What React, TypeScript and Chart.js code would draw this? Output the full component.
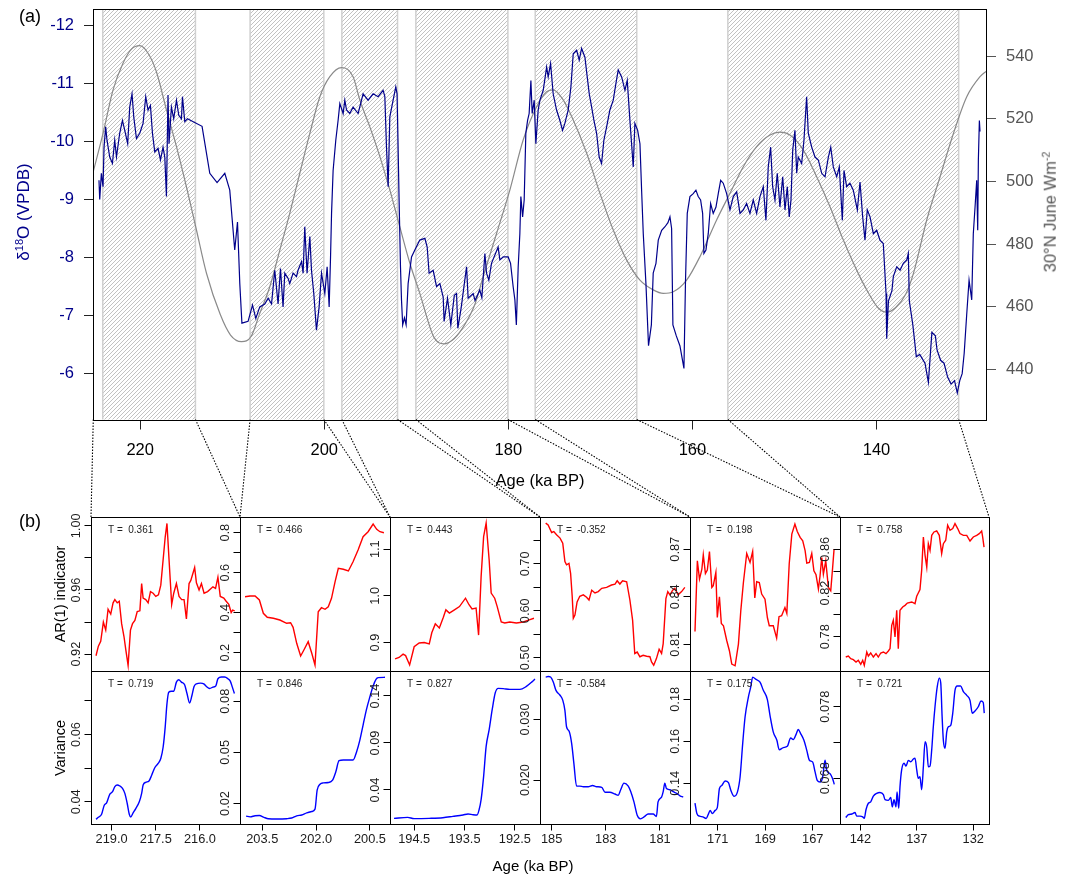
import React, { useEffect, useRef } from 'react';
import { Chart, registerables } from 'chart.js';

Chart.register(...registerables);

const FONT = '"Liberation Sans", Arial, Helvetica, sans-serif';
Chart.defaults.font.family = FONT;
Chart.defaults.color = '#000';

// ---------------- (a) top panel data ----------------
const d18oAge = [
  224.48, 224.40, 224.22, 224.04, 223.93, 223.75, 223.61, 223.31, 223.02, 222.77,
  222.58, 222.23, 221.93, 221.68, 221.36, 221.14, 220.89, 220.70, 220.41, 220.05,
  219.69, 219.40, 219.15, 218.89, 218.67, 218.42, 218.06, 217.80, 217.52, 217.33,
  217.15, 216.98, 216.87, 216.61, 216.36, 216.06, 215.81, 215.52, 215.41, 215.16,
  214.87, 213.28, 212.44, 211.65, 210.81, 210.27, 209.73, 209.43, 209.18, 208.95,
  208.28, 207.80, 207.44, 207.01, 206.47, 206.10, 205.73, 205.38, 205.02, 204.76,
  204.48, 204.29, 203.93, 203.75, 203.39, 203.02, 202.85, 202.47, 202.30, 202.12,
  201.87, 201.57, 201.39, 201.14, 200.85, 200.56, 200.30, 199.94, 199.69, 199.47,
  199.32, 199.21, 199.04, 198.75, 198.50, 198.31, 197.95, 197.77, 197.58, 197.23,
  196.87, 196.32, 195.78, 195.24, 194.69, 194.15, 193.61, 193.42, 193.24, 193.06,
  192.88, 192.52, 192.23, 192.09, 191.87, 191.72, 191.61, 191.48, 191.29, 191.11,
  190.89, 190.52, 190.16, 189.62, 189.07, 188.82, 188.61, 188.17, 187.80, 187.44,
  187.08, 186.98, 186.61, 186.25, 185.87, 185.63, 185.49, 185.12, 184.54, 184.37,
  183.82, 183.62, 183.10, 182.88, 182.55, 182.37, 182.12, 181.83, 181.11, 180.92,
  180.56, 180.02, 179.76, 179.48, 179.29, 179.13, 178.93, 178.75, 178.64, 178.45,
  178.28, 178.10, 177.91, 177.74, 177.55, 177.41, 177.19, 177.01, 176.76, 176.57,
  176.21, 175.84, 175.67, 175.41, 175.13, 174.76, 174.40, 174.11, 173.86, 173.50,
  173.20, 172.95, 172.58, 172.30, 172.04, 171.68, 171.43, 171.21, 170.95, 170.70,
  170.41, 170.13, 169.87, 169.62, 169.32, 168.97, 168.60, 168.31, 168.06, 167.69,
  167.33, 167.08, 166.79, 166.61, 166.43, 166.25, 165.95, 165.70, 165.52, 165.34,
  165.05, 164.77, 164.46, 164.26, 163.96, 163.71, 163.34, 162.98, 162.66, 162.44,
  162.26, 162.12, 161.75, 161.36, 160.92, 160.75, 160.56, 160.27, 159.91, 159.62,
  159.37, 159.11, 158.89, 158.75, 158.53, 158.28, 158.02, 157.74, 157.44, 157.19,
  156.93, 156.65, 156.28, 155.92, 155.56, 155.19, 154.83, 154.47, 154.11, 153.75,
  153.39, 153.02, 152.66, 152.30, 152.01, 151.76, 151.50, 151.28, 151.03, 150.78,
  150.49, 150.19, 149.94, 149.69, 149.48, 149.29, 149.10, 148.86, 148.67, 148.50,
  148.13, 147.88, 147.59, 147.41, 147.04, 146.68, 146.32, 145.95, 145.59, 145.23,
  144.97, 144.69, 144.32, 144.04, 143.71, 143.53, 143.24, 142.88, 142.52, 142.08,
  141.79, 141.50, 141.25, 141.00, 140.70, 140.34, 139.98, 139.62, 139.26, 138.96,
  138.89, 138.70, 138.32, 138.17, 137.80, 137.44, 137.08, 136.71, 136.54, 136.43,
  136.05, 135.67, 135.30, 134.73, 134.36, 133.98, 133.60, 133.42, 133.03, 132.66,
  132.27, 131.90, 131.52, 131.22, 130.95, 130.69, 130.47, 130.20, 129.94, 129.65,
  129.48, 129.29, 129.11, 129.00, 128.93, 128.82, 128.75,
];
const d18oVal = [
  -9.33, -9.00, -9.45, -9.22, -9.90, -10.25, -10.02, -9.73, -9.62, -10.02,
  -9.73, -10.14, -10.36, -10.19, -9.96, -10.59, -10.82, -10.42, -10.05, -10.14,
  -10.31, -10.77, -10.54, -10.62, -10.14, -9.82, -9.88, -9.68, -9.90, -9.73,
  -9.05, -10.80, -9.96, -10.59, -10.39, -10.71, -10.45, -10.39, -10.77, -10.34,
  -10.39, -10.26, -9.45, -9.29, -9.45, -9.16, -8.13, -8.61, -7.55, -6.87,
  -6.90, -7.18, -6.95, -7.15, -7.20, -7.30, -7.20, -7.78, -7.20, -7.81,
  -7.15, -7.73, -7.64, -7.55, -7.73, -7.67, -7.78, -7.93, -7.73, -8.53,
  -7.73, -8.36, -7.78, -7.38, -6.75, -7.15, -7.73, -7.38, -7.84, -7.15,
  -8.01, -8.76, -9.50, -10.02, -10.36, -10.65, -10.48, -10.71, -10.54, -10.48,
  -10.59, -10.48, -10.82, -10.71, -10.82, -10.77, -10.88, -10.77, -9.90, -9.22,
  -10.42, -10.71, -10.94, -10.82, -8.99, -7.84, -7.27, -6.84, -6.96, -6.84,
  -7.55, -8.01, -8.13, -8.30, -8.33, -8.18, -7.73, -7.78, -7.50, -7.55,
  -7.32, -6.90, -7.30, -6.84, -7.35, -7.38, -6.78, -7.14, -7.84, -7.30,
  -7.38, -7.26, -7.44, -7.31, -8.07, -7.73, -7.61, -7.90, -8.18, -7.96,
  -8.01, -8.01, -7.90, -7.50, -7.27, -6.84, -7.84, -8.41, -9.05, -8.70,
  -8.99, -10.14, -10.36, -10.48, -11.05, -10.48, -10.71, -9.96, -10.54, -10.71,
  -10.88, -11.28, -11.11, -11.34, -10.82, -10.54, -10.36, -10.19, -10.31, -10.54,
  -10.94, -11.51, -11.57, -11.40, -11.60, -11.45, -11.11, -10.82, -10.59, -10.36,
  -10.14, -9.73, -9.62, -10.02, -10.25, -10.54, -10.71, -11.00, -11.23, -11.11,
  -10.88, -11.05, -10.36, -9.96, -9.56, -10.31, -10.19, -9.96, -9.16, -8.41,
  -7.55, -6.48, -6.84, -7.73, -7.90, -8.30, -8.47, -8.53, -8.60, -8.70,
  -8.50, -6.84, -6.65, -6.48, -6.09, -7.61, -8.76, -9.05, -9.10, -9.16,
  -9.05, -8.99, -8.76, -8.07, -8.13, -8.41, -8.93, -8.76, -8.87, -9.10,
  -9.33, -9.28, -9.10, -8.82, -9.05, -9.13, -8.76, -8.82, -8.93, -8.76,
  -8.99, -8.76, -9.05, -9.22, -8.64, -9.56, -9.90, -9.22, -8.99, -9.45,
  -8.87, -9.39, -8.82, -9.22, -8.70, -8.99, -9.85, -10.19, -9.45, -9.73,
  -9.62, -10.02, -10.77, -10.14, -9.90, -9.73, -9.68, -9.45, -9.39, -9.73,
  -9.90, -9.56, -9.39, -9.56, -8.64, -9.50, -9.22, -9.28, -9.16, -8.82,
  -9.30, -8.70, -8.30, -8.82, -8.70, -8.41, -8.47, -8.30, -8.24, -7.38,
  -6.60, -7.25, -7.43, -7.67, -7.84, -7.78, -7.90, -7.96, -8.07, -7.25,
  -6.84, -6.29, -6.33, -6.18, -5.85, -6.71, -6.65, -6.41, -6.23, -6.18,
  -5.94, -5.82, -5.88, -5.67, -5.88, -6.00, -6.35, -7.01, -7.61, -7.27,
  -8.41, -8.87, -9.33, -8.47, -9.68, -10.36, -10.17,
];
const insolAge = [
  225.20, 224.04, 222.95, 221.87, 220.95, 220.05, 219.15, 218.24, 217.15, 216.06,
  214.98, 213.89, 212.80, 211.31, 210.19, 208.99, 207.94, 207.01, 205.92, 204.83,
  203.75, 202.66, 201.57, 200.48, 199.40, 198.13, 196.87, 196.14, 195.05, 193.96,
  192.88, 191.79, 190.70, 189.62, 188.11, 186.99, 185.87, 184.74, 183.62, 182.74,
  181.28, 179.83, 178.39, 176.93, 175.84, 175.13, 174.04, 172.95, 171.49, 170.05,
  168.60, 167.14, 165.70, 164.26, 163.17, 162.08, 160.63, 159.18, 157.37, 155.92,
  154.47, 153.02, 151.57, 150.49, 149.40, 147.95, 146.50, 145.05, 143.60, 142.15,
  141.06, 139.83, 138.89, 137.94, 136.81, 136.00, 134.54, 133.09, 131.64, 130.19,
  128.75, 128.05,
];
const insolVal = [
  502.0, 515.3, 529.2, 537.7, 542.2, 543.3, 540.9, 535.0, 522.8, 511.1,
  498.3, 484.5, 470.7, 457.6, 451.0, 448.9, 450.6, 457.9, 466.4, 478.1,
  489.8, 502.6, 515.3, 527.0, 533.4, 536.3, 533.4, 526.0, 517.4, 507.9,
  497.3, 485.5, 473.9, 464.3, 450.4, 448.2, 449.9, 454.3, 460.9, 469.6,
  483.4, 497.3, 513.2, 523.8, 528.6, 529.2, 526.0, 519.6, 509.0, 496.2,
  484.5, 474.9, 468.5, 465.4, 464.3, 464.8, 468.5, 476.0, 487.7, 496.2,
  504.7, 511.1, 514.8, 515.7, 514.8, 510.0, 501.5, 491.9, 481.3, 471.7,
  465.4, 459.7, 458.3, 459.7, 464.1, 470.5, 487.7, 501.5, 515.3, 527.0,
  533.4, 535.2,
];
const shadeStart = [224.07, 208.06, 198.09, 190.05, 177.08, 156.15];
const shadeEnd = [214.0, 200.05, 192.04, 180.05, 166.05, 131.07];
const linkAges = [225.1, 214.0, 208.06, 200.05, 198.09, 192.04, 190.05, 180.05, 177.08, 166.05, 156.15, 131.07];
const topAgeTicks = [220, 200, 180, 160, 140];
const d18oTicks = [-12, -11, -10, -9, -8, -7, -6];
const insolTicks = [440, 460, 480, 500, 520, 540];

// ---------------- (b) AR(1) panels ----------------
const ar1Age = [219.53, 219.45, 219.37, 219.28, 219.20, 219.12, 219.03, 218.95, 218.89, 218.81, 218.74, 218.66, 218.58, 218.52, 218.44, 218.36, 218.29, 218.21, 218.13, 218.04, 217.98, 217.93, 217.84, 217.76, 217.68, 217.59, 217.50, 217.41, 217.33, 217.25, 217.18, 217.12, 217.05, 216.96, 216.89, 216.80, 216.71, 216.62, 216.54, 216.46, 216.37, 216.31, 216.18, 216.12, 216.03, 215.95, 215.86, 215.74, 215.56, 215.47, 215.39, 215.31, 215.19, 215.11, 215.02, 214.94, 214.89, 214.82];
const ar1 = [0.919, 0.925, 0.928, 0.940, 0.935, 0.948, 0.945, 0.952, 0.954, 0.952, 0.953, 0.939, 0.931, 0.923, 0.913, 0.935, 0.939, 0.941, 0.9465, 0.947, 0.964, 0.955, 0.954, 0.952, 0.959, 0.958, 0.956, 0.957, 0.963, 0.979, 0.993, 1.0015, 0.979, 0.951, 0.958, 0.964, 0.956, 0.954, 0.954, 0.942, 0.964, 0.966, 0.974, 0.9645, 0.960, 0.964, 0.958, 0.959, 0.962, 0.961, 0.968, 0.956, 0.955, 0.953, 0.951, 0.946, 0.9475, 0.947];
const ar2Age = [203.98, 203.84, 203.70, 203.58, 203.47, 203.36, 203.19, 203.01, 202.82, 202.71, 202.64, 202.54, 202.43, 202.34, 202.22, 202.12, 202.03, 201.94, 201.85, 201.75, 201.66, 201.57, 201.47, 201.38, 201.24, 201.10, 200.97, 200.83, 200.69, 200.55, 200.41, 200.31, 200.22, 200.11];
const ar2 = [0.48, 0.4835, 0.4835, 0.4635, 0.397, 0.377, 0.372, 0.3635, 0.347, 0.35, 0.327, 0.247, 0.1835, 0.2135, 0.255, 0.197, 0.1385, 0.405, 0.425, 0.417, 0.43, 0.472, 0.555, 0.622, 0.617, 0.6085, 0.655, 0.7135, 0.78, 0.805, 0.8435, 0.817, 0.805, 0.80];
const ar3Age = [194.88, 194.80, 194.72, 194.67, 194.59, 194.50, 194.40, 194.30, 194.20, 194.15, 194.08, 194.00, 193.92, 193.87, 193.80, 193.70, 193.60, 193.48, 193.41, 193.35, 193.27, 193.22, 193.17, 193.12, 193.07, 193.01, 192.97, 192.90, 192.85, 192.77, 192.70, 192.60, 192.47, 192.33, 192.20, 192.12];
const ar3 = [0.865, 0.868, 0.875, 0.872, 0.852, 0.891, 0.899, 0.900, 0.897, 0.921, 0.940, 0.931, 0.954, 0.970, 0.963, 0.970, 0.977, 0.995, 0.981, 0.972, 0.974, 0.916, 1.041, 1.127, 1.156, 1.077, 1.006, 0.995, 0.977, 0.944, 0.942, 0.944, 0.942, 0.944, 0.949, 0.952];
const ar4Age = [185.22, 185.13, 185.00, 184.92, 184.82, 184.69, 184.59, 184.51, 184.45, 184.36, 184.30, 184.24, 184.20, 184.14, 184.06, 183.96, 183.83, 183.71, 183.62, 183.52, 183.40, 183.28, 183.15, 182.97, 182.79, 182.66, 182.58, 182.48, 182.38, 182.23, 182.11, 182.01, 181.93, 181.84, 181.74, 181.62, 181.49, 181.37, 181.31, 181.23, 181.13, 181.03, 180.94, 180.88, 180.78, 180.71, 180.63, 180.53, 180.45, 180.33, 180.20, 180.08];
const ar4 = [0.787, 0.783, 0.767, 0.769, 0.762, 0.755, 0.744, 0.705, 0.698, 0.701, 0.68, 0.63, 0.584, 0.591, 0.619, 0.631, 0.634, 0.629, 0.623, 0.644, 0.638, 0.641, 0.648, 0.65, 0.655, 0.657, 0.664, 0.657, 0.664, 0.662, 0.623, 0.58, 0.509, 0.512, 0.502, 0.505, 0.503, 0.502, 0.491, 0.484, 0.498, 0.518, 0.509, 0.53, 0.626, 0.641, 0.634, 0.644, 0.648, 0.634, 0.641, 0.65];
const ar5Age = [171.96, 171.86, 171.77, 171.67, 171.61, 171.52, 171.44, 171.35, 171.25, 171.19, 171.08, 171.02, 170.93, 170.85, 170.76, 170.62, 170.51, 170.41, 170.27, 170.13, 170.03, 169.92, 169.78, 169.64, 169.53, 169.44, 169.36, 169.25, 169.15, 169.01, 168.91, 168.83, 168.66, 168.52, 168.42, 168.31, 168.17, 168.09, 167.99, 167.88, 167.75, 167.65, 167.53, 167.42, 167.32, 167.25, 167.14, 167.04, 166.95, 166.86, 166.76, 166.69, 166.62, 166.55, 166.45, 166.34, 166.24, 166.16, 166.10];
const ar5 = [0.818, 0.8627, 0.8512, 0.8575, 0.8665, 0.8547, 0.8569, 0.8686, 0.8459, 0.847, 0.8554, 0.8269, 0.84, 0.8231, 0.8217, 0.8122, 0.8059, 0.7975, 0.7964, 0.8101, 0.8312, 0.849, 0.8674, 0.8617, 0.8686, 0.8392, 0.8495, 0.849, 0.8417, 0.8385, 0.8269, 0.8217, 0.8217, 0.8139, 0.8274, 0.828, 0.8332, 0.8295, 0.8607, 0.8796, 0.8859, 0.8812, 0.8775, 0.8754, 0.8691, 0.8613, 0.8617, 0.8674, 0.8564, 0.8539, 0.8449, 0.8533, 0.8648, 0.8543, 0.8627, 0.8459, 0.8438, 0.8585, 0.8701];
const ar6Age = [143.29, 143.06, 142.85, 142.62, 142.38, 142.18, 141.96, 141.79, 141.65, 141.43, 141.29, 141.08, 140.85, 140.61, 140.41, 140.19, 139.96, 139.73, 139.52, 139.37, 139.22, 139.08, 138.93, 138.78, 138.64, 138.49, 138.25, 138.04, 137.84, 137.45, 137.16, 137.01, 136.87, 136.72, 136.57, 136.42, 136.27, 136.12, 135.98, 135.83, 135.68, 135.48, 135.24, 135.01, 134.80, 134.65, 134.44, 134.27, 134.06, 133.82, 133.62, 133.38, 133.18, 132.88, 132.58, 132.29, 132.00, 131.70, 131.47, 131.26, 131.17, 131.05];
const ar6 = [0.7614, 0.7623, 0.7599, 0.759, 0.7568, 0.7584, 0.7547, 0.7584, 0.7538, 0.766, 0.7623, 0.7651, 0.7614, 0.7645, 0.7614, 0.7651, 0.766, 0.7645, 0.7669, 0.7691, 0.7904, 0.795, 0.7797, 0.8042, 0.7691, 0.8042, 0.8072, 0.8087, 0.8108, 0.8118, 0.8103, 0.817, 0.82, 0.8231, 0.8408, 0.8713, 0.8545, 0.8438, 0.8652, 0.8591, 0.8728, 0.8759, 0.8768, 0.8728, 0.8561, 0.8652, 0.8683, 0.882, 0.8774, 0.879, 0.8836, 0.879, 0.8744, 0.8728, 0.8728, 0.8676, 0.8713, 0.8728, 0.8744, 0.8768, 0.8713, 0.8621];

// ---------------- (b) variance panels ----------------
const var1Age = [219.53, 219.45, 219.34, 219.25, 219.17, 219.06, 218.97, 218.89, 218.81, 218.72, 218.63, 218.55, 218.47, 218.40, 218.35, 218.27, 218.18, 218.06, 217.98, 217.93, 217.84, 217.73, 217.64, 217.53, 217.42, 217.33, 217.25, 217.18, 217.12, 217.06, 216.97, 216.89, 216.80, 216.72, 216.63, 216.52, 216.44, 216.35, 216.27, 216.20, 216.12, 215.98, 215.87, 215.78, 215.67, 215.56, 215.46, 215.39, 215.27, 215.16, 215.05, 214.97, 214.90, 214.83];
const var1 = [0.0348, 0.0354, 0.0363, 0.039, 0.0397, 0.0423, 0.043, 0.0445, 0.045, 0.0447, 0.044, 0.0425, 0.0395, 0.0363, 0.0355, 0.0367, 0.038, 0.04, 0.0425, 0.045, 0.0458, 0.0462, 0.0479, 0.0502, 0.0514, 0.0529, 0.0563, 0.0623, 0.0692, 0.0726, 0.0729, 0.0729, 0.0756, 0.0763, 0.0756, 0.0748, 0.0722, 0.0694, 0.0717, 0.0743, 0.0751, 0.0753, 0.0751, 0.0743, 0.0737, 0.0741, 0.0745, 0.0766, 0.0771, 0.0771, 0.0766, 0.0759, 0.0741, 0.0722];
const var2Age = [203.95, 203.84, 203.70, 203.58, 203.45, 203.33, 203.10, 202.82, 202.68, 202.54, 202.40, 202.26, 202.12, 202.03, 201.97, 201.89, 201.80, 201.66, 201.54, 201.45, 201.36, 201.24, 201.10, 200.97, 200.87, 200.78, 200.69, 200.60, 200.50, 200.41, 200.33, 200.27, 200.08];
const var2 = [0.0126, 0.0122, 0.0128, 0.013, 0.0119, 0.0111, 0.0109, 0.0111, 0.0115, 0.0128, 0.0133, 0.0145, 0.0153, 0.0167, 0.0278, 0.0313, 0.0321, 0.0323, 0.0337, 0.0386, 0.0451, 0.0455, 0.0455, 0.0455, 0.0504, 0.0572, 0.066, 0.0748, 0.0826, 0.0889, 0.0928, 0.0938, 0.094];
const var3Age = [194.90, 194.63, 194.50, 194.20, 193.93, 193.73, 193.53, 193.43, 193.33, 193.25, 193.21, 193.17, 193.12, 193.07, 193.01, 192.95, 192.89, 192.83, 192.73, 192.60, 192.40, 192.27, 192.17, 192.10];
const var3 = [0.0098, 0.0109, 0.0095, 0.0098, 0.0105, 0.0119, 0.0134, 0.0145, 0.0137, 0.0134, 0.019, 0.0297, 0.0545, 0.0864, 0.1041, 0.1254, 0.1432, 0.1481, 0.1478, 0.147, 0.147, 0.1502, 0.1545, 0.1581];
const var4Age = [185.22, 185.13, 185.04, 184.94, 184.84, 184.69, 184.59, 184.51, 184.45, 184.35, 184.26, 184.18, 184.08, 183.96, 183.83, 183.65, 183.49, 183.34, 183.15, 183.03, 182.85, 182.66, 182.54, 182.45, 182.33, 182.17, 182.08, 181.96, 181.84, 181.72, 181.56, 181.44, 181.25, 181.13, 181.07, 180.94, 180.88, 180.82, 180.76, 180.63, 180.51, 180.38, 180.26, 180.14];
const var4 = [0.037, 0.0371, 0.037, 0.0362, 0.0348, 0.034, 0.0332, 0.0315, 0.0288, 0.028, 0.026, 0.0228, 0.019, 0.019, 0.0189, 0.0189, 0.0191, 0.0189, 0.0188, 0.018, 0.018, 0.0177, 0.0175, 0.0184, 0.0195, 0.019, 0.0181, 0.0164, 0.0142, 0.0136, 0.014, 0.0144, 0.0144, 0.014, 0.0164, 0.0172, 0.0181, 0.0195, 0.0186, 0.0184, 0.0181, 0.0178, 0.0174, 0.0172];
const var5Age = [171.96, 171.88, 171.77, 171.63, 171.49, 171.40, 171.32, 171.23, 171.11, 171.02, 170.93, 170.83, 170.69, 170.55, 170.45, 170.31, 170.17, 170.06, 169.95, 169.85, 169.71, 169.61, 169.53, 169.39, 169.22, 169.08, 168.91, 168.80, 168.66, 168.51, 168.41, 168.24, 168.07, 167.93, 167.82, 167.70, 167.61, 167.51, 167.37, 167.25, 167.14, 167.00, 166.90, 166.81, 166.69, 166.58, 166.48, 166.41, 166.27, 166.16, 166.09];
const var5 = [0.1306, 0.1256, 0.1243, 0.124, 0.1232, 0.1252, 0.1271, 0.1256, 0.1271, 0.1284, 0.1375, 0.139, 0.1411, 0.1403, 0.1367, 0.1338, 0.1359, 0.143, 0.1589, 0.1716, 0.1811, 0.1859, 0.1906, 0.1895, 0.1882, 0.1843, 0.1799, 0.1724, 0.1644, 0.1605, 0.156, 0.157, 0.1576, 0.1616, 0.1608, 0.1633, 0.1656, 0.1637, 0.1605, 0.1557, 0.151, 0.1501, 0.1454, 0.1414, 0.1406, 0.143, 0.151, 0.1462, 0.1446, 0.1422, 0.1395];
const var6Age = [143.29, 143.06, 142.76, 142.47, 142.32, 142.03, 141.79, 141.65, 141.50, 141.29, 141.08, 140.85, 140.55, 140.26, 139.96, 139.81, 139.52, 139.31, 139.17, 139.02, 138.84, 138.75, 138.60, 138.49, 138.34, 138.13, 137.96, 137.75, 137.54, 137.31, 137.16, 137.01, 136.87, 136.72, 136.57, 136.42, 136.27, 136.12, 135.98, 135.83, 135.68, 135.54, 135.39, 135.19, 135.01, 134.88, 134.76, 134.65, 134.50, 134.35, 134.21, 134.00, 133.82, 133.62, 133.42, 133.12, 132.88, 132.58, 132.29, 132.09, 131.85, 131.56, 131.32, 131.12, 131.03];
const var6 = [0.0625, 0.0629, 0.063, 0.0632, 0.0627, 0.0627, 0.0626, 0.0624, 0.0636, 0.0645, 0.0647, 0.0655, 0.0659, 0.066, 0.0657, 0.065, 0.0649, 0.0653, 0.064, 0.065, 0.064, 0.0661, 0.0638, 0.0668, 0.0692, 0.0701, 0.0697, 0.0705, 0.0703, 0.0707, 0.0708, 0.0692, 0.068, 0.0682, 0.0664, 0.0696, 0.0731, 0.0723, 0.0696, 0.0697, 0.072, 0.0752, 0.078, 0.0808, 0.082, 0.0813, 0.0766, 0.0733, 0.0722, 0.0745, 0.0752, 0.0754, 0.0771, 0.0803, 0.0809, 0.0809, 0.0801, 0.0796, 0.0789, 0.0771, 0.0774, 0.078, 0.0788, 0.0786, 0.0771];

// Kendall tau labels
const arTau = ['0.361', '0.466', '0.443', '-0.352', '0.198', '0.758'];
const varTau = ['0.719', '0.846', '0.827', '-0.584', '0.175', '0.721'];

// axis ranges / ticks of the small panels
const panelAgeMin = [214.64, 199.94, 192.0, 179.89, 165.85, 130.61];
const panelAgeMax = [219.70, 204.12, 194.98, 185.43, 172.17, 143.8];
const panelAgeTicks = [[219.0, 217.5, 216.0], [203.5, 202.0, 200.5], [194.5, 193.5, 192.5], [185, 183, 181], [171, 169, 167], [142, 137, 132]];
const panelAgeDigits = [1, 1, 1, 0, 0, 0];
const arYMin = [0.9095, 0.1085, 0.839, 0.4716, 0.7931, 0.7486];
const arYMax = [1.0055, 0.8785, 1.169, 0.80, 0.8904, 0.8896];
const arYTicks = [[0.92, 0.94, 0.96, 0.98, 1.0], [0.2, 0.3, 0.4, 0.5, 0.6, 0.7, 0.8], [0.9, 1.0, 1.1], [0.5, 0.55, 0.6, 0.65, 0.7, 0.75], [0.81, 0.84, 0.87], [0.78, 0.80, 0.82, 0.84, 0.86]];
const arYLabels = [['0.92', '', '0.96', '', '1.00'], ['0.2', '', '0.4', '', '0.6', '', '0.8'], ['0.9', '1.0', '1.1'], ['0.50', '', '0.60', '', '0.70', ''], ['0.81', '0.84', '0.87'], ['0.78', '', '0.82', '', '0.86']];
const varYMin = [0.0334, 0.008, 0.0038, 0.01275, 0.1206, 0.0616];
const varYMax = [0.0789, 0.0977, 0.1666, 0.038, 0.1935, 0.083];
const varYTicks = [[0.04, 0.05, 0.06, 0.07], [0.02, 0.05, 0.08], [0.04, 0.09, 0.14], [0.02, 0.03], [0.14, 0.16, 0.18], [0.068, 0.073, 0.078]];
const varYLabels = [['0.04', '', '0.06', ''], ['0.02', '0.05', '0.08'], ['0.04', '0.09', '0.14'], ['0.020', '0.030'], ['0.14', '0.16', '0.18'], ['0.068', '', '0.078']];

const arAges = [ar1Age, ar2Age, ar3Age, ar4Age, ar5Age, ar6Age];
const arVals = [ar1, ar2, ar3, ar4, ar5, ar6];
const varAges = [var1Age, var2Age, var3Age, var4Age, var5Age, var6Age];
const varVals = [var1, var2, var3, var4, var5, var6];

// ---------------- layout ----------------
const PAGE_W = 1065;
const PAGE_H = 876;
const PANEL_EDGES = [91, 240, 390, 540, 690, 840, 989];
const ROW_EDGES = [517, 671, 824];
const TOP = { left: 93, top: 9, right: 986, bottom: 419.5 };
const SMALL_FONT = 12.8;

function pts(xs: number[], ys: number[]) {
  const n = Math.min(xs.length, ys.length);
  const out: { x: number; y: number }[] = [];
  for (let i = 0; i < n; i++) out.push({ x: xs[i], y: ys[i] });
  return out;
}
const fixW = (w: number) => (s: any) => { s.width = w; s.paddingTop = 0; s.paddingBottom = 0; };
const fixH = (h: number) => (s: any) => { s.height = h; s.paddingLeft = 0; s.paddingRight = 0; };
const setTicks = (vals: number[]) => (s: any) => { s.ticks = vals.map((v) => ({ value: v })); };

let measureCtx: CanvasRenderingContext2D | null = null;
function maxLabelWidth(labels: string[], size: number) {
  if (!measureCtx) measureCtx = document.createElement('canvas').getContext('2d');
  if (!measureCtx) return 0;
  measureCtx.font = `${size}px ${FONT}`;
  let m = 0;
  labels.forEach((l) => { m = Math.max(m, measureCtx!.measureText(l).width); });
  return m;
}

const framePlugin = {
  id: 'frame',
  afterDraw(chart: any) {
    const { ctx, chartArea: a } = chart;
    const l = Math.round(a.left) + 0.5, t = Math.round(a.top) + 0.5;
    const r = Math.round(a.right) + 0.5, b = Math.round(a.bottom) + 0.5;
    ctx.save();
    ctx.strokeStyle = '#000';
    ctx.lineWidth = 1;
    ctx.setLineDash([]);
    ctx.strokeRect(l, t, r - l, b - t);
    ctx.restore();
  },
};

const tauPlugin = {
  id: 'tau',
  afterDraw(chart: any, _args: any, opts: any) {
    if (!opts || !opts.text) return;
    const { ctx, chartArea: a } = chart;
    ctx.save();
    ctx.font = `10px ${FONT}`;
    ctx.fillStyle = '#222';
    ctx.textBaseline = 'middle';
    ctx.textAlign = 'left';
    ctx.fillText(opts.text, a.left + 17, a.top + 13);
    ctx.restore();
  },
};

function makeHatch(ctx: CanvasRenderingContext2D) {
  const c = document.createElement('canvas');
  c.width = 4;
  c.height = 4;
  const g = c.getContext('2d')!;
  g.strokeStyle = '#c2c2c2';
  g.lineWidth = 1;
  g.beginPath();
  g.moveTo(0, 4); g.lineTo(4, 0);
  g.moveTo(-1, 1); g.lineTo(1, -1);
  g.moveTo(3, 5); g.lineTo(5, 3);
  g.stroke();
  return ctx.createPattern(c, 'repeat');
}

const hatchPlugin = {
  id: 'hatch',
  beforeDatasetsDraw(chart: any) {
    const { ctx, chartArea: a, scales } = chart;
    const xs = scales.x;
    const pat = makeHatch(ctx);
    ctx.save();
    for (let i = 0; i < shadeStart.length; i++) {
      const x1 = xs.getPixelForValue(shadeStart[i]);
      const x2 = xs.getPixelForValue(shadeEnd[i]);
      const l = Math.max(Math.min(x1, x2), a.left);
      const r = Math.min(Math.max(x1, x2), a.right);
      if (pat) ctx.fillStyle = pat;
      ctx.fillRect(l, a.top, r - l, a.bottom - a.top);
      ctx.strokeStyle = '#d0d0d0';
      ctx.lineWidth = 1.5;
      ctx.beginPath();
      ctx.moveTo(l, a.top); ctx.lineTo(l, a.bottom);
      ctx.moveTo(r, a.top); ctx.lineTo(r, a.bottom);
      ctx.stroke();
    }
    ctx.restore();
  },
};

function buildPanel(canvas: HTMLCanvasElement, row: number, col: number) {
  const isVar = row === 1;
  const l = PANEL_EDGES[col], r = PANEL_EDGES[col + 1];
  const t = ROW_EDGES[row], b = ROW_EDGES[row + 1];
  const yW = 40, xH = isVar ? 40 : 0;
  const yTicks = isVar ? varYTicks[col] : arYTicks[col];
  const yLabels = isVar ? varYLabels[col] : arYLabels[col];
  const widest = maxLabelWidth(yLabels, SMALL_FONT);
  const digits = panelAgeDigits[col];
  return new Chart(canvas, {
    type: 'line',
    data: {
      datasets: [{
        data: isVar ? pts(varAges[col], varVals[col]) : pts(arAges[col], arVals[col]),
        borderColor: isVar ? '#0000ff' : '#ff0000',
        borderWidth: 1.4,
        pointRadius: 0,
        tension: 0,
        cubicInterpolationMode: isVar ? 'monotone' : 'default',
        fill: false,
      } as any],
    },
    options: {
      animation: false,
      responsive: false,
      events: [],
      layout: { padding: { left: l - yW, right: PAGE_W - r, top: t, bottom: PAGE_H - b - xH } },
      plugins: { legend: { display: false }, tooltip: { enabled: false }, tau: { text: 'T =  ' + (isVar ? varTau[col] : arTau[col]) } } as any,
      scales: {
        x: {
          type: 'linear',
          reverse: true,
          bounds: 'data',
          min: panelAgeMin[col],
          max: panelAgeMax[col],
          display: isVar,
          afterBuildTicks: setTicks(panelAgeTicks[col]),
          afterFit: fixH(xH),
          ticks: { autoSkip: false, minRotation: 0, maxRotation: 0, padding: 1, color: '#1a1a1a', font: { size: SMALL_FONT }, callback: (v: any) => Number(v).toFixed(digits) },
          grid: { drawOnChartArea: false, drawTicks: true, tickLength: 6.5, color: '#000', lineWidth: 1 },
          border: { display: false },
        },
        y: {
          type: 'linear',
          bounds: 'data',
          min: isVar ? varYMin[col] : arYMin[col],
          max: isVar ? varYMax[col] : arYMax[col],
          afterBuildTicks: setTicks(yTicks),
          afterFit: fixW(yW),
          ticks: {
            autoSkip: false,
            minRotation: 90,
            maxRotation: 90,
            crossAlign: 'center',
            padding: 8 - widest / 2,
            color: '#1a1a1a',
            font: { size: SMALL_FONT },
            callback: (_v: any, i: number) => yLabels[i] ?? '',
          },
          grid: { drawOnChartArea: false, drawTicks: true, tickLength: 6.5, color: '#000', lineWidth: 1 },
          border: { display: false },
        },
      } as any,
    },
    plugins: [framePlugin, tauPlugin],
  } as any);
}

function buildTop(canvas: HTMLCanvasElement, arCharts: Chart[]) {
  const linksPlugin = {
    id: 'links',
    afterDraw(chart: any) {
      const { ctx, chartArea: a, scales } = chart;
      ctx.save();
      ctx.strokeStyle = '#000';
      ctx.lineWidth = 1.1;
      ctx.setLineDash([1.5, 1.5]);
      linkAges.forEach((age, k) => {
        const p: any = arCharts[k >> 1];
        if (!p || !p.chartArea) return;
        const xTop = scales.x.getPixelForValue(age);
        const xBot = k % 2 === 0 ? p.chartArea.left : p.chartArea.right;
        ctx.beginPath();
        ctx.moveTo(xTop, a.bottom);
        ctx.lineTo(xBot, p.chartArea.top);
        ctx.stroke();
      });
      ctx.restore();
    },
  };
  const xH = 40;
  return new Chart(canvas, {
    type: 'line',
    data: {
      datasets: [
        {
          data: pts(d18oAge, d18oVal),
          yAxisID: 'y',
          borderColor: '#00008B',
          borderWidth: 1.2,
          pointRadius: 0,
          tension: 0,
          fill: false,
        },
        {
          data: pts(insolAge, insolVal),
          yAxisID: 'y2',
          borderColor: '#8a8a8a',
          borderWidth: 1.2,
          pointRadius: 0,
          cubicInterpolationMode: 'monotone',
          fill: false,
        },
      ] as any,
    },
    options: {
      animation: false,
      responsive: false,
      events: [],
      layout: { padding: { left: 0, right: 0, top: TOP.top, bottom: PAGE_H - TOP.bottom - xH } },
      plugins: { legend: { display: false }, tooltip: { enabled: false } },
      scales: {
        x: {
          type: 'linear',
          reverse: true,
          bounds: 'data',
          min: 128.1,
          max: 225.13,
          afterBuildTicks: setTicks(topAgeTicks),
          afterFit: fixH(xH),
          ticks: { autoSkip: false, minRotation: 0, maxRotation: 0, padding: 11.5, color: '#000', font: { size: 16.5 }, callback: (v: any) => String(v) },
          grid: { drawOnChartArea: false, drawTicks: true, tickLength: 10, color: '#222', lineWidth: 1 },
          border: { display: false },
        },
        y: {
          type: 'linear',
          position: 'left',
          reverse: true,
          bounds: 'data',
          min: -12.28,
          max: -5.21,
          afterBuildTicks: setTicks(d18oTicks),
          afterFit: fixW(TOP.left),
          ticks: { autoSkip: false, padding: 10, color: '#00008B', font: { size: 16.5 }, callback: (v: any) => String(v) },
          grid: { drawOnChartArea: false, drawTicks: true, tickLength: 9, color: '#222', lineWidth: 1 },
          border: { display: false },
        },
        y2: {
          type: 'linear',
          position: 'right',
          bounds: 'data',
          min: 424.05,
          max: 555.0,
          afterBuildTicks: setTicks(insolTicks),
          afterFit: fixW(PAGE_W - TOP.right),
          ticks: { autoSkip: false, padding: 10, color: '#555', font: { size: 16.5 }, callback: (v: any) => String(v) },
          grid: { drawOnChartArea: false, drawTicks: true, tickLength: 10, color: '#555', lineWidth: 1 },
          border: { display: false },
        },
      } as any,
    },
    plugins: [hatchPlugin, framePlugin, linksPlugin],
  } as any);
}

function Txt(props: { x: number; y: number; size: number; color?: string; rot?: number; children: React.ReactNode }) {
  const { x, y, size, color = '#000', rot = 0, children } = props;
  return (
    <div
      style={{
        position: 'absolute',
        left: x,
        top: y,
        transform: `translate(-50%, -50%) rotate(${rot}deg)`,
        fontSize: size,
        color,
        whiteSpace: 'nowrap',
        lineHeight: 1,
        fontFamily: FONT,
      }}
    >
      {children}
    </div>
  );
}

const supStyle: React.CSSProperties = { fontSize: '0.65em', position: 'relative', top: '-0.55em' };

export default function App() {
  const refs = useRef<(HTMLCanvasElement | null)[]>([]);
  useEffect(() => {
    const charts: Chart[] = [];
    const arCharts: Chart[] = [];
    for (let i = 0; i < 6; i++) {
      const a = buildPanel(refs.current[1 + i]!, 0, i);
      arCharts.push(a);
      charts.push(a);
      charts.push(buildPanel(refs.current[7 + i]!, 1, i));
    }
    charts.push(buildTop(refs.current[0]!, arCharts));
    return () => charts.forEach((c) => c.destroy());
  }, []);

  return (
    <div style={{ position: 'absolute', left: 0, top: 0, width: PAGE_W, height: PAGE_H, background: '#fff', overflow: 'hidden' }}>
      {Array.from({ length: 13 }, (_, i) => (
        <canvas
          key={i}
          ref={(el) => { refs.current[i] = el; }}
          width={PAGE_W}
          height={PAGE_H}
          style={{ position: 'absolute', left: 0, top: 0 }}
        />
      ))}
      <Txt x={30} y={16} size={18}>(a)</Txt>
      <Txt x={30} y={521} size={18}>(b)</Txt>
      <Txt x={23} y={212} size={17} color="#00008B" rot={-90}>
        δ<span style={supStyle}>18</span>O (VPDB)
      </Txt>
      <Txt x={1050} y={212} size={16.5} color="#555" rot={-90}>
        30°N June Wm<span style={supStyle}>-2</span>
      </Txt>
      <Txt x={540} y={480} size={16.5}>Age (ka BP)</Txt>
      <Txt x={60} y={594} size={14.5} rot={-90}>AR(1) indicator</Txt>
      <Txt x={60} y={748} size={14.5} rot={-90}>Variance</Txt>
      <Txt x={533} y={865} size={15}>Age (ka BP)</Txt>
    </div>
  );
}
